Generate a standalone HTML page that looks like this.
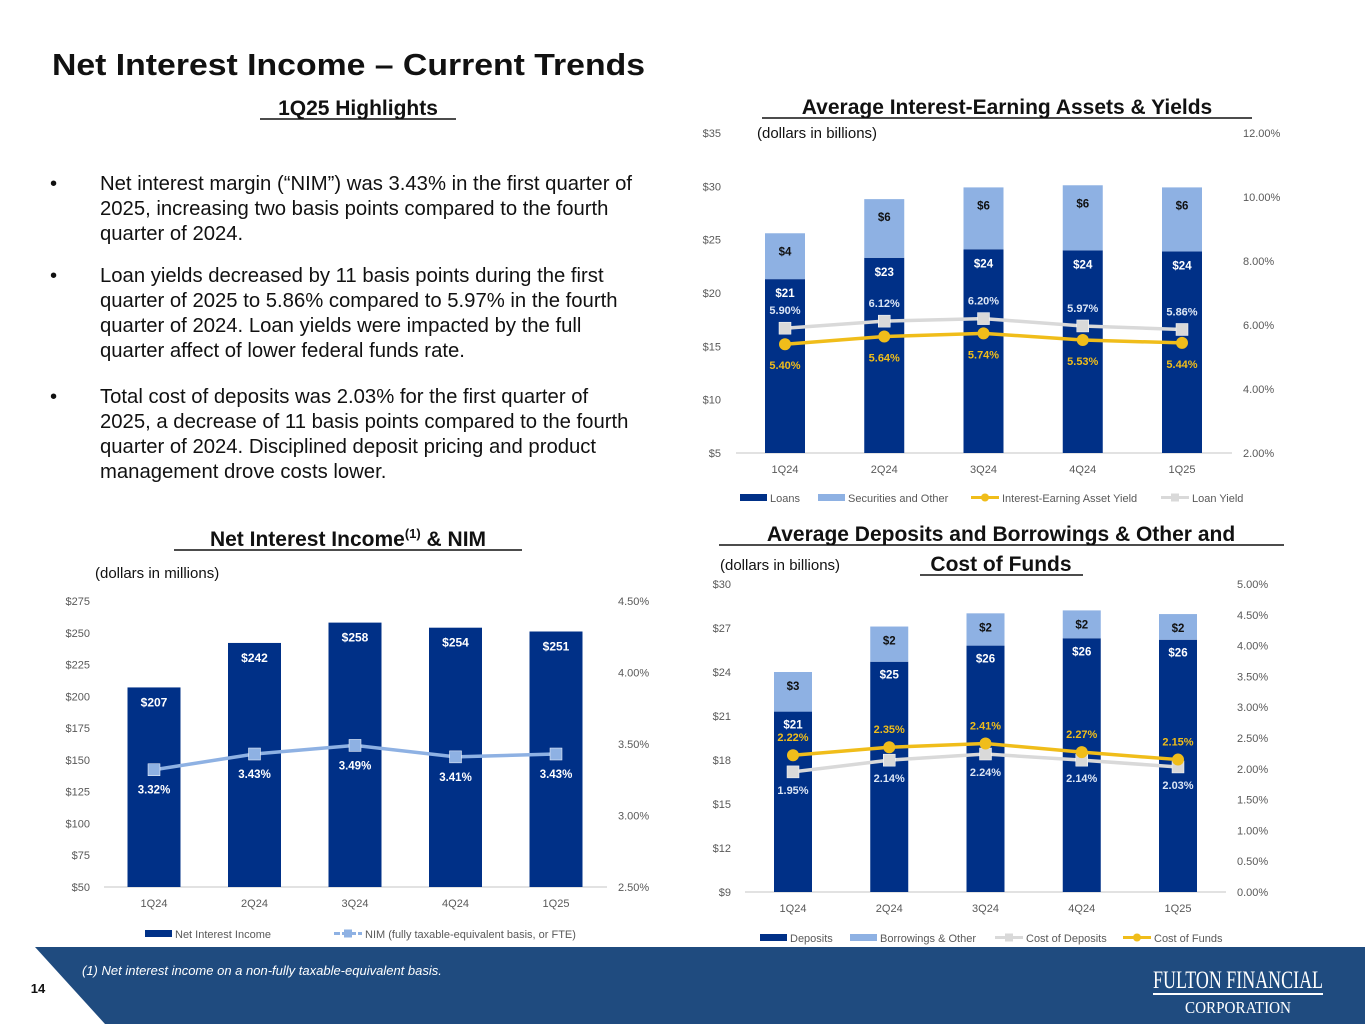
<!DOCTYPE html>
<html><head><meta charset="utf-8"><style>
body{margin:0;width:1365px;height:1024px;overflow:hidden;background:#fff;font-family:"Liberation Sans",sans-serif;}
svg{display:block}
</style></head><body>
<svg id="page" width="1365" height="1024" viewBox="0 0 1365 1024" xmlns="http://www.w3.org/2000/svg" font-family="Liberation Sans, sans-serif">
<text x="52" y="75" font-size="31" font-weight="bold" fill="#111" textLength="593" lengthAdjust="spacingAndGlyphs">Net Interest Income – Current Trends</text>
<text x="358" y="115" font-size="21" font-weight="bold" text-anchor="middle" fill="#111">1Q25 Highlights</text>
<line x1="260" y1="119" x2="456" y2="119" stroke="#111" stroke-width="1.5"/>
<g font-size="20.3" fill="#111">
<text x="50" y="190">•</text>
<text x="100" y="190">Net interest margin (“NIM”) was 3.43% in the first quarter of</text>
<text x="100" y="215">2025, increasing two basis points compared to the fourth</text>
<text x="100" y="240">quarter of 2024.</text>
<text x="50" y="282">•</text>
<text x="100" y="282">Loan yields decreased by 11 basis points during the first</text>
<text x="100" y="307">quarter of 2025 to 5.86% compared to 5.97% in the fourth</text>
<text x="100" y="332">quarter of 2024. Loan yields were impacted by the full</text>
<text x="100" y="357">quarter affect of lower federal funds rate.</text>
<text x="50" y="403">•</text>
<text x="100" y="403">Total cost of deposits was 2.03% for the first quarter of</text>
<text x="100" y="428">2025, a decrease of 11 basis points compared to the fourth</text>
<text x="100" y="453">quarter of 2024.  Disciplined deposit pricing and product</text>
<text x="100" y="478">management drove costs lower.</text>
</g>
<text x="1007" y="114" font-size="21" font-weight="bold" text-anchor="middle" fill="#111">Average Interest-Earning Assets &amp; Yields</text>
<line x1="762" y1="118" x2="1252" y2="118" stroke="#111" stroke-width="1.5"/>
<text x="757" y="138" font-size="15" fill="#111">(dollars in billions)</text>
<text x="348" y="546" font-size="21" font-weight="bold" text-anchor="middle" fill="#111">Net Interest Income<tspan font-size="13" dy="-8">(1)</tspan><tspan dy="8"> &amp; NIM</tspan></text>
<line x1="174" y1="550" x2="522" y2="550" stroke="#111" stroke-width="1.5"/>
<text x="95" y="578" font-size="15" fill="#111">(dollars in millions)</text>
<text x="1001" y="541" font-size="21" font-weight="bold" text-anchor="middle" fill="#111">Average Deposits and Borrowings &amp; Other and</text>
<line x1="719" y1="545" x2="1284" y2="545" stroke="#111" stroke-width="1.5"/>
<text x="1001" y="571" font-size="21" font-weight="bold" text-anchor="middle" fill="#111">Cost of Funds</text>
<line x1="920" y1="575" x2="1083" y2="575" stroke="#111" stroke-width="1.5"/>
<text x="720" y="570" font-size="15" fill="#111">(dollars in billions)</text>
<g id="c1"></g><g id="c2"></g><g id="c3"></g>
<path d="M35,947 L1365,947 L1365,1024 L105,1024 Z" fill="#1f4b7f"/>
<text x="82" y="975" font-size="13" font-style="italic" fill="#fff">(1) Net interest income on a non-fully taxable-equivalent basis.</text>
<text x="38" y="993" font-size="13" font-weight="bold" text-anchor="middle" fill="#111">14</text>
<g>
<text x="1238" y="988" font-size="25" font-family="Liberation Serif, serif" fill="#fff" text-anchor="middle" textLength="170" lengthAdjust="spacingAndGlyphs">FULTON FINANCIAL</text>
<line x1="1153" y1="994" x2="1323" y2="994" stroke="#fff" stroke-width="2"/>
<text x="1238" y="1013" font-size="17" font-family="Liberation Serif, serif" fill="#fff" text-anchor="middle" textLength="106" lengthAdjust="spacingAndGlyphs">CORPORATION</text>
</g>
</svg>
<script>
var NS="http://www.w3.org/2000/svg";
var cats=["1Q24","2Q24","3Q24","4Q24","1Q25"];
// Chart 1: assets
var loans=[21.3,23.3,24.1,24.0,23.9];
var securities=[4.3,5.5,5.8,6.1,6.0];
var loanLabels=["$21","$23","$24","$24","$24"];
var secLabels=["$4","$6","$6","$6","$6"];
var assetYield=[5.40,5.64,5.74,5.53,5.44];
var loanYield=[5.90,6.12,6.20,5.97,5.86];
var c1LeftTicks=[5,10,15,20,25,30,35];
var c1RightTicks=[2,4,6,8,10,12];
// Chart 2: NII
var nii=[207,242,258,254,251];
var nim=[3.32,3.43,3.49,3.41,3.43];
var c2LeftTicks=[50,75,100,125,150,175,200,225,250,275];
var c2RightTicks=[2.5,3.0,3.5,4.0,4.5];
// Chart 3: deposits
var deposits=[21.3,24.7,25.8,26.3,26.2];
var borrowings=[2.7,2.4,2.2,1.9,1.75];
var depLabels=["$21","$25","$26","$26","$26"];
var borLabels=["$3","$2","$2","$2","$2"];
var costDeposits=[1.95,2.14,2.24,2.14,2.03];
var costFunds=[2.22,2.35,2.41,2.27,2.15];
var c3LeftTicks=[9,12,15,18,21,24,27,30];
var c3RightTicks=[0,0.5,1,1.5,2,2.5,3,3.5,4,4.5,5];

function mk(parent,tag,attrs,txt){var e=document.createElementNS(NS,tag);for(var k in attrs)e.setAttribute(k,attrs[k]);if(txt!=null)e.textContent=txt;parent.appendChild(e);return e;}
function scale(d0,d1,r0,r1){return function(v){return r0+(v-d0)*(r1-r0)/(d1-d0);};}

function axes(g,cfg,yL,yR,lt,rt,lfmt,rfmt){
  lt.forEach(function(v){var t=mk(g,"text",{x:cfg.lx,y:yL(v)+4,"font-size":11,fill:"#595959","text-anchor":"end"},lfmt(v));
    
    });
  rt.forEach(function(v){var t=mk(g,"text",{x:cfg.rx,y:yR(v)+4,"font-size":11,fill:"#595959"},rfmt(v));
    
    });
  var b=mk(g,"line",{x1:cfg.x0,x2:cfg.x1,y1:cfg.base,y2:cfg.base,stroke:"#d9d9d9","stroke-width":1.5});
  
  
  cats.forEach(function(c,i){var t=mk(g,"text",{x:cfg.xs(i),y:cfg.base+20,"font-size":11,fill:"#595959","text-anchor":"middle"},c);
    
    });
}
function bar(g,x,w,y0,y1,color,name){var r=mk(g,"rect",{x:x-w/2,y:y1,width:w,height:y0-y1,fill:color});
  
  return r;}
function label(g,x,y,txt,color,name,size){var t=mk(g,"text",{x:x,y:y,"font-size":size||11.5,"font-weight":"bold",fill:color,"text-anchor":"middle"},txt);
  
  return t;}
function line(g,xs,ys,vals,color,marker,name){
  var pts=vals.map(function(v,i){return xs(i)+","+ys(v);}).join(" ");
  var p=mk(g,"polyline",{points:pts,fill:"none",stroke:color,"stroke-width":3.5});
  
  
  vals.forEach(function(v,i){var m;
    if(marker=="circle"){m=mk(g,"circle",{cx:xs(i),cy:ys(v),r:6,fill:color});}
    else{m=mk(g,"rect",{x:xs(i)-6,y:ys(v)-6,width:12,height:12,fill:color,stroke:"#fff","stroke-width":0.5});}
    
    });
}
function legend(g,items,y){
  items.forEach(function(it){var lg=mk(g,"g",{});
    
    
    if(it.type=="bar")mk(lg,"rect",{x:it.x,y:y-5,width:27,height:7,fill:it.c});
    else{mk(lg,"line",{x1:it.x,x2:it.x+28,y1:y-1.5,y2:y-1.5,stroke:it.c,"stroke-width":3,"stroke-dasharray":it.dash||"none"});
      if(it.m=="circle")mk(lg,"circle",{cx:it.x+14,cy:y-1.5,r:4,fill:it.c});else mk(lg,"rect",{x:it.x+10,y:y-5.5,width:8,height:8,fill:it.c});}
    mk(lg,"text",{x:it.x+(it.type=="bar"?30:31),y:y+3,"font-size":11,fill:"#595959"},it.t);});
}
var DARK="#003087",LIGHT="#8eb1e3",GOLD="#f0bd1a",GRAY="#d9d9d9";

// Chart 1
(function(){var g=document.getElementById("c1");
  
  
  var base=453,xs=function(i){return 785+i*99.25;};
  var yL=scale(5,35,453,133),yR=scale(2,12,453,133);
  axes(g,{lx:721,rx:1243,x0:736,x1:1232,base:base,xs:xs},yL,yR,c1LeftTicks,c1RightTicks,function(v){return "$"+v;},function(v){return v.toFixed(2)+"%";});
  cats.forEach(function(c,i){var x=xs(i);
    bar(g,x,40,base,yL(loans[i]),DARK,"loans-bar");
    bar(g,x,40,yL(loans[i]),yL(loans[i]+securities[i]),LIGHT,"securities-bar");
    label(g,x,yL(loans[i])+18,loanLabels[i],"#fff","loans-value");
    label(g,x,yL(loans[i]+securities[i])+22,secLabels[i],"#111","securities-value");});
  line(g,xs,yR,loanYield,GRAY,"square","loan-yield");
  line(g,xs,yR,assetYield,GOLD,"circle","asset-yield");
  cats.forEach(function(c,i){
    label(g,xs(i),yR(loanYield[i])-14,loanYield[i].toFixed(2)+"%","#dce6f5","loan-yield-value",11);
    label(g,xs(i),yR(assetYield[i])+25,assetYield[i].toFixed(2)+"%",GOLD,"asset-yield-value",11);});
  legend(g,[{type:"bar",x:740,c:DARK,t:"Loans"},{type:"bar",x:818,c:LIGHT,t:"Securities and Other"},{type:"line",x:971,c:GOLD,m:"circle",t:"Interest-Earning Asset Yield"},{type:"line",x:1161,c:GRAY,m:"square",t:"Loan Yield"}],499);
})();
// Chart 2
(function(){var g=document.getElementById("c2");
  
  
  var base=887,xs=function(i){return 154+i*100.5;};
  var yL=scale(50,275,887,601),yR=scale(2.5,4.5,887,601);
  axes(g,{lx:90,rx:618,x0:104,x1:607,base:base,xs:xs},yL,yR,c2LeftTicks,c2RightTicks,function(v){return "$"+v;},function(v){return v.toFixed(2)+"%";});
  cats.forEach(function(c,i){var x=xs(i);
    bar(g,x,53,base,yL(nii[i]),DARK,"nii-bar");
    label(g,x,yL(nii[i])+19,"$"+nii[i],"#fff","nii-value",12);});
  line(g,xs,yR,nim,"#8eb1e3","square","nim");
  cats.forEach(function(c,i){label(g,xs(i),yR(nim[i])+24,nim[i].toFixed(2)+"%","#fff","nim-value",11.5);});
  legend(g,[{type:"bar",x:145,c:DARK,t:"Net Interest Income"},{type:"line",x:334,c:"#8eb1e3",m:"square",dash:"6,2",t:"NIM (fully taxable-equivalent basis, or FTE)"}],935);
})();
// Chart 3
(function(){var g=document.getElementById("c3");
  
  
  var base=892,xs=function(i){return 793+i*96.25;};
  var yL=scale(9,30,892,584),yR=scale(0,5,892,584);
  axes(g,{lx:731,rx:1237,x0:745,x1:1226,base:base,xs:xs},yL,yR,c3LeftTicks,c3RightTicks,function(v){return "$"+v;},function(v){return v.toFixed(2)+"%";});
  cats.forEach(function(c,i){var x=xs(i);
    bar(g,x,38,base,yL(deposits[i]),DARK,"deposits-bar");
    bar(g,x,38,yL(deposits[i]),yL(deposits[i]+borrowings[i]),LIGHT,"borrowings-bar");
    label(g,x,yL(deposits[i])+17,depLabels[i],"#fff","deposits-value");
    label(g,x,yL(deposits[i]+borrowings[i])+18,borLabels[i],"#111","borrowings-value");});
  line(g,xs,yR,costDeposits,GRAY,"square","cost-of-deposits");
  line(g,xs,yR,costFunds,GOLD,"circle","cost-of-funds");
  cats.forEach(function(c,i){
    label(g,xs(i),yR(costFunds[i])-14,costFunds[i].toFixed(2)+"%",GOLD,"cost-of-funds-value",11);
    label(g,xs(i),yR(costDeposits[i])+22,costDeposits[i].toFixed(2)+"%","#dce6f5","cost-of-deposits-value",11);});
  legend(g,[{type:"bar",x:760,c:DARK,t:"Deposits"},{type:"bar",x:850,c:LIGHT,t:"Borrowings & Other"},{type:"line",x:995,c:GRAY,m:"square",t:"Cost of Deposits"},{type:"line",x:1123,c:GOLD,m:"circle",t:"Cost of Funds"}],939);
})();
</script>
</body></html>
